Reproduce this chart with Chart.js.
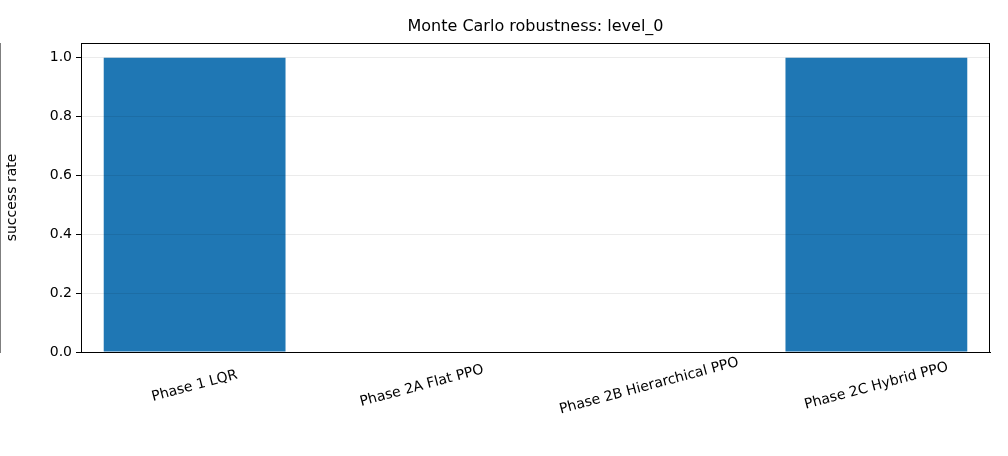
<!DOCTYPE html>
<html><head><meta charset="utf-8">
<script src="https://cdn.jsdelivr.net/npm/chart.js@4/dist/chart.umd.min.js"></script>
<style>html,body{margin:0;padding:0;background:#fff}</style>
</head><body>
<canvas id="c" width="1008" height="456" style="width:1008px;height:456px"></canvas>
<script>
const categories = ["Phase 1 LQR", "Phase 2A Flat PPO", "Phase 2B Hierarchical PPO", "Phase 2C Hybrid PPO"];
const successRate = [1.0, 0.0, 0.0, 1.0];
const yTicks = [0.0, 0.2, 0.4, 0.6, 0.8, 1.0];
const titleText = "Monte Carlo robustness: level_0";
const FONT = "DejaVu Sans";

const overlay = {
  id: 'overlay',
  afterDraw(chart) {
    const ctx = chart.ctx, x = chart.scales.x, a = chart.chartArea;
    ctx.save();
    ctx.fillStyle = '#000';
    ctx.font = '16px "' + FONT + '"';
    ctx.textAlign = 'center'; ctx.textBaseline = 'middle';
    ctx.fillText(titleText, (a.left + a.right) / 2, 27);
    ctx.font = '14px "' + FONT + '"';
    categories.forEach((c, i) => {
      const px = x.getPixelForTick(i);
      ctx.save();
      ctx.translate(px, a.bottom + 34);
      ctx.rotate(-15 * Math.PI / 180);
      ctx.fillText(c, 0, 0);
      ctx.restore();
    });
    ctx.strokeStyle = '#000'; ctx.lineWidth = 1;
    ctx.strokeRect(a.left + 0.5, a.top + 0.5, a.right - a.left - 1, a.bottom - a.top);
    ctx.restore();
  }
};

new Chart(document.getElementById('c'), {
  type: 'bar',
  data: { labels: categories, datasets: [{ data: successRate, backgroundColor: '#1f77b4', barPercentage: 0.8, categoryPercentage: 1.0 }] },
  options: {
    responsive: false, animation: false,
    layout: { padding: { top: 43, right: 18, left: 0, bottom: 0 } },
    plugins: { legend: { display: false }, title: { display: false }, tooltip: { enabled: false } },
    scales: {
      x: {
        grid: { display: false, drawTicks: true },
        border: { color: '#000' },
        ticks: { display: false },
        afterFit(s) { s.height = 104; }
      },
      y: {
        min: 0, max: 1.05,
        afterBuildTicks(s) { s.ticks = yTicks.map(v => ({ value: v })); },
        grid: { color: 'rgba(0,0,0,0.08)', z: 1, tickColor: '#000', tickLength: 5 },
        border: { color: '#000' },
        ticks: { color: '#000', font: { family: FONT, size: 14 }, padding: 4, callback: v => v.toFixed(1) },
        title: { display: true, text: 'success rate', color: '#000', font: { family: FONT, size: 14 } },
        afterFit(s) { s.width = 81; }
      }
    }
  },
  plugins: [overlay]
});
</script>
</body></html>
